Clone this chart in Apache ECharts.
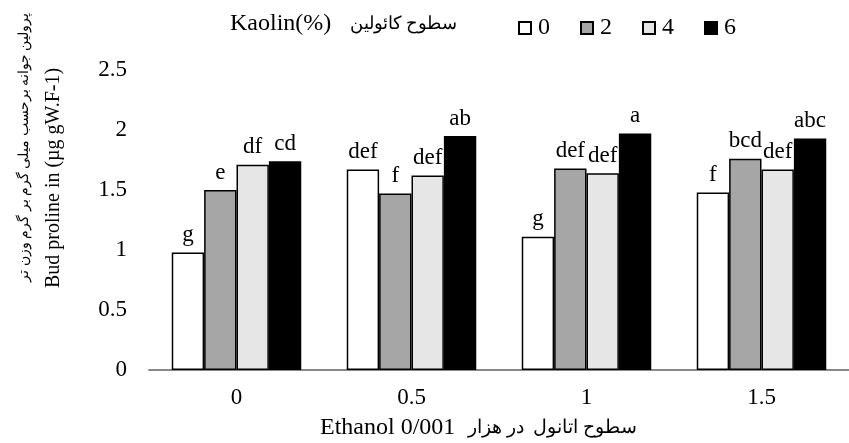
<!DOCTYPE html>
<html>
<head>
<meta charset="utf-8">
<script src="https://cdn.jsdelivr.net/npm/echarts@6/dist/echarts.min.js"></script>
<style>
  html, body { margin: 0; padding: 0; background: #fff; }
  #main { width: 849px; height: 443px; }
</style>
</head>
<body>
<div id="main"></div>
<script>
// ethanol levels (x categories)
var categories = ['0', '0.5', '1', '1.5'];
// kaolin levels (series)
var kaolinNames = ['0', '2', '4', '6'];
var kaolin0 = [0.98, 1.67, 1.11, 1.48];
var kaolin2 = [1.50, 1.47, 1.68, 1.76];
var kaolin4 = [1.71, 1.62, 1.64, 1.67];
var kaolin6 = [1.74, 1.95, 1.97, 1.93];
// significance letters
var letters0 = ['g', 'def', 'g', 'f'];
var letters2 = ['e', 'f', 'def', 'bcd'];
var letters4 = ['df', 'def', 'def', 'def'];
var letters6 = ['cd', 'ab', 'a', 'abc'];

var serif = '"Liberation Serif", "Times New Roman", "DejaVu Serif", serif';
var fills = ['#ffffff', '#a6a6a6', '#e6e6e6', '#000000'];
var values = [kaolin0, kaolin2, kaolin4, kaolin6];
var letters = [letters0, letters2, letters4, letters6];

var series = [];
for (var i = 0; i < kaolinNames.length; i++) {
    (function (idx) {
        series.push({
            name: kaolinNames[idx],
            type: 'bar',
            data: values[idx],
            barGap: '0%',
            barCategoryGap: '26%',
            itemStyle: {
                color: fills[idx],
                borderColor: '#000',
                borderWidth: 1.5
            },
            label: {
                show: true,
                position: 'top',
                distance: 6,
                color: '#000',
                fontFamily: serif,
                fontSize: 23,
                formatter: function (p) { return letters[idx][p.dataIndex]; }
            }
        });
    })(i);
}

function txt(x, y, s, size, align, rot) {
    return {
        type: 'text',
        x: x,
        y: y,
        rotation: rot || 0,
        style: {
            text: s,
            fontFamily: serif,
            fontSize: size,
            fill: '#000',
            align: align,
            verticalAlign: 'middle'
        }
    };
}

var myChart = echarts.init(document.getElementById('main'));
myChart.setOption({
    animation: false,
    backgroundColor: '#fff',
    textStyle: { fontFamily: serif },
    grid: { left: 149, right: 0, top: 70, bottom: 73 },
    legend: {
        left: 513,
        top: 11,
        icon: 'rect',
        itemWidth: 12,
        itemHeight: 12,
        itemGap: 30,
        textStyle: { fontFamily: serif, fontSize: 24, color: '#000', padding: [0, 0, 0, 2] },
        data: kaolinNames
    },
    xAxis: {
        type: 'category',
        data: categories,
        axisLine: { lineStyle: { color: '#888', width: 2 } },
        axisTick: { show: false },
        axisLabel: { color: '#000', fontSize: 23, fontFamily: serif, margin: 16 }
    },
    yAxis: {
        type: 'value',
        min: 0,
        max: 2.5,
        interval: 0.5,
        axisLine: { show: false },
        axisTick: { show: false },
        splitLine: { show: false },
        axisLabel: { color: '#000', fontSize: 23, fontFamily: serif, margin: 22 }
    },
    graphic: [
        txt(230, 24, 'Kaolin(%)', 24, 'left'),
        txt(457, 24, 'سطوح کائولین', 18, 'right'),
        txt(320, 428, 'Ethanol 0/001', 24, 'left'),
        txt(637, 428, 'سطوح اتانول  در هزار', 19, 'right'),
        txt(24, 147, 'پرولین جوانه برحسب میلی گرم بر گرم وزن تر', 13.5, 'center', Math.PI / 2),
        txt(54, 178, 'Bud proline in (µg gW.F-1)', 20, 'center', Math.PI / 2)
    ],
    series: series
});
</script>
</body>
</html>
